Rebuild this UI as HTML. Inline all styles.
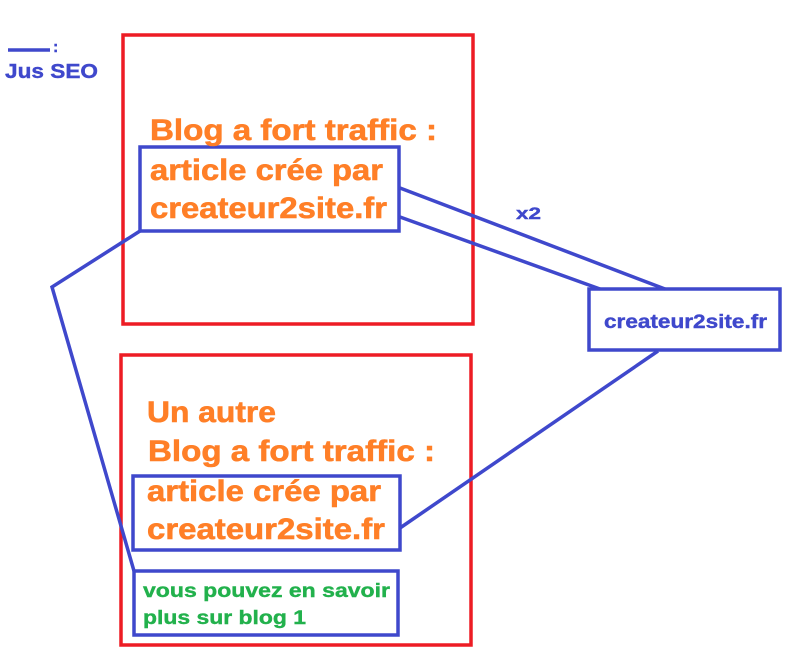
<!DOCTYPE html>
<html><head><meta charset="utf-8"><style>
html,body{margin:0;padding:0;background:#fff;width:790px;height:671px;overflow:hidden}
text{font-family:"Liberation Sans",Arial,sans-serif;font-weight:700}
</style></head><body>
<svg width="790" height="671" viewBox="0 0 790 671" xmlns="http://www.w3.org/2000/svg" font-family="Liberation Sans, Arial, sans-serif" font-weight="bold">
<g fill="none" stroke="#ed1c24" stroke-width="3.5">
<rect x="123" y="35" width="350" height="289"/>
<rect x="121" y="355" width="350" height="290"/>
</g>
<g fill="none" stroke="#3f48cc" stroke-width="3.5">
<rect x="140" y="147" width="259" height="84"/>
<rect x="133" y="476" width="267" height="74"/>
<rect x="134" y="571" width="264" height="64"/>
<rect x="589" y="289" width="191" height="61"/>
<polyline points="140,231 52,287 134,571"/>
<line x1="400" y1="188" x2="665" y2="289"/>
<line x1="400" y1="217" x2="600" y2="289"/>
<line x1="658" y1="351" x2="400" y2="528"/>
<line x1="8" y1="50" x2="50" y2="50"/>
</g>
<g fill="#ff7f27" stroke="#ff7f27" stroke-width="0.6" font-size="30">
<text x="150" y="140" textLength="287" lengthAdjust="spacingAndGlyphs">Blog a fort traffic :</text>
<text x="150" y="180" textLength="233" lengthAdjust="spacingAndGlyphs">article crée par</text>
<text x="150" y="218" textLength="237" lengthAdjust="spacingAndGlyphs">createur2site.fr</text>
<text x="147" y="422" textLength="129" lengthAdjust="spacingAndGlyphs">Un autre</text>
<text x="148" y="461" textLength="287" lengthAdjust="spacingAndGlyphs">Blog a fort traffic :</text>
<text x="147" y="501" textLength="234" lengthAdjust="spacingAndGlyphs">article crée par</text>
<text x="147" y="539" textLength="238" lengthAdjust="spacingAndGlyphs">createur2site.fr</text>
</g>
<g fill="#22b14c" stroke="#22b14c" stroke-width="0.4" font-size="19">
<text x="143" y="597" textLength="247" lengthAdjust="spacingAndGlyphs">vous pouvez en savoir</text>
<text x="143" y="624" textLength="163" lengthAdjust="spacingAndGlyphs">plus sur blog 1</text>
</g>
<g fill="#3f48cc" stroke="#3f48cc" stroke-width="0.4">
<text x="604" y="328" font-size="19" textLength="163" lengthAdjust="spacingAndGlyphs">createur2site.fr</text>
<text x="516" y="219" font-size="17" textLength="25" lengthAdjust="spacingAndGlyphs">x2</text>
<text x="5" y="78" font-size="20" textLength="93" lengthAdjust="spacingAndGlyphs">Jus SEO</text>
<text x="53" y="52" font-size="16">:</text>
</g>
</svg>
</body></html>
